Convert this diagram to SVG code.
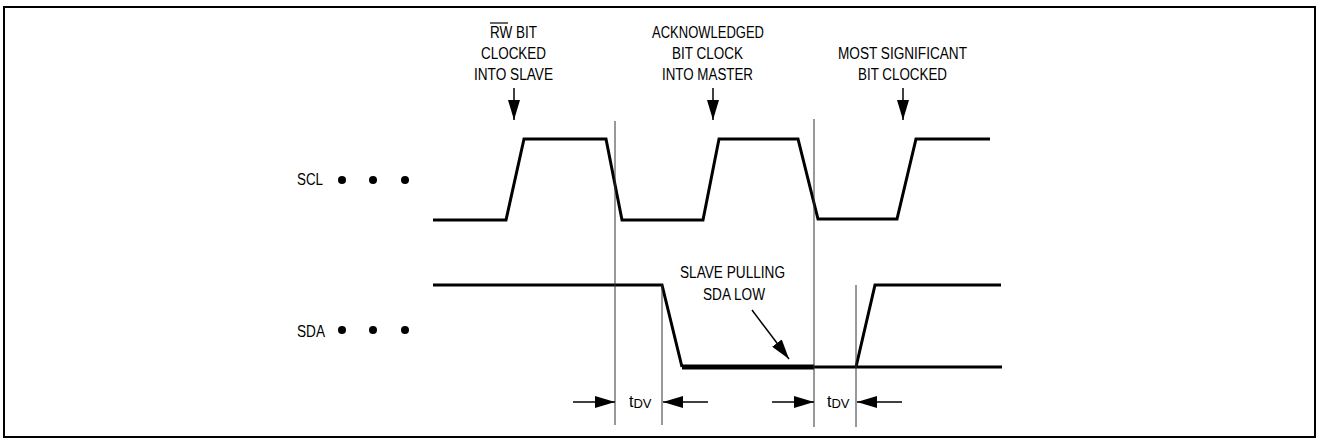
<svg xmlns="http://www.w3.org/2000/svg" width="1318" height="440" viewBox="0 0 1318 440">
<defs>
<marker id="ah" viewBox="0 0 20 12" refX="20" refY="6" markerWidth="20" markerHeight="12" markerUnits="userSpaceOnUse" orient="auto">
<path d="M0,0 L20,6 L0,12 Z" fill="#000"/>
</marker>
</defs>
<style>
text{font-family:"Liberation Sans",Arial,sans-serif;font-size:16px;fill:#000}
.sub{font-size:13px}
.wave{fill:none;stroke:#000;stroke-width:3;stroke-linejoin:miter}
.thick{fill:none;stroke:#000;stroke-width:5}
.guide{fill:none;stroke:#333;stroke-width:1}
.arr{fill:none;stroke:#000;stroke-width:1.5;marker-end:url(#ah)}
.dot{fill:#000}
</style>
<rect id="frame" x="4" y="7" width="1311" height="430" fill="#fff" stroke="#000" stroke-width="2"/>

<g id="scl-label">
<text x="297" y="185" textLength="26" lengthAdjust="spacingAndGlyphs">SCL</text>
<circle class="dot" cx="342" cy="180" r="4"/>
<circle class="dot" cx="373" cy="180" r="4"/>
<circle class="dot" cx="405" cy="180" r="4"/>
</g>
<g id="sda-label">
<text x="297" y="337" textLength="28" lengthAdjust="spacingAndGlyphs">SDA</text>
<circle class="dot" cx="342" cy="330" r="4"/>
<circle class="dot" cx="373" cy="330" r="4"/>
<circle class="dot" cx="405" cy="330" r="4"/>
</g>

<g id="scl-wave">
<polyline class="wave" points="433,220 506,220 524,139 606,139 622,220 703,220 719,139 798,139 818,219 897,219 916,139 990,139"/>
</g>
<g id="sda-wave">
<polyline class="wave" points="433,285 662,285 682,367"/>
<line class="thick" x1="682" y1="367" x2="814" y2="367"/>
<line class="wave" x1="814" y1="367" x2="1002" y2="367"/>
<polyline class="wave" points="856,367 875,285 1001,285"/>
</g>

<g id="guides">
<line class="guide" x1="615" y1="121" x2="615" y2="425"/>
<line class="guide" x1="814" y1="119" x2="814" y2="427"/>
<line class="guide" x1="662" y1="285" x2="662" y2="425"/>
<line class="guide" x1="856" y1="285" x2="856" y2="427"/>
</g>

<g id="label-rw">
<text x="490" y="38" textLength="47" lengthAdjust="spacingAndGlyphs">RW BIT</text>
<line x1="490" y1="23" x2="508" y2="23" stroke="#000" stroke-width="1.2"/>
<text x="481" y="59" textLength="65" lengthAdjust="spacingAndGlyphs">CLOCKED</text>
<text x="474" y="80" textLength="79" lengthAdjust="spacingAndGlyphs">INTO SLAVE</text>
</g>
<g id="label-ack">
<text x="652" y="38" textLength="112" lengthAdjust="spacingAndGlyphs">ACKNOWLEDGED</text>
<text x="672" y="59" textLength="71" lengthAdjust="spacingAndGlyphs">BIT CLOCK</text>
<text x="662" y="80" textLength="91" lengthAdjust="spacingAndGlyphs">INTO MASTER</text>
</g>
<g id="label-msb">
<text x="838" y="59" textLength="129" lengthAdjust="spacingAndGlyphs">MOST SIGNIFICANT</text>
<text x="858" y="80" textLength="89" lengthAdjust="spacingAndGlyphs">BIT CLOCKED</text>
</g>
<g id="label-slave">
<text x="680" y="278" textLength="105" lengthAdjust="spacingAndGlyphs">SLAVE PULLING</text>
<text x="703" y="300" textLength="62" lengthAdjust="spacingAndGlyphs">SDA LOW</text>
</g>
<g id="label-tdv1">
<text x="629" y="407">t<tspan class="sub" dy="1">DV</tspan></text>
</g>
<g id="label-tdv2">
<text x="827" y="407">t<tspan class="sub" dy="1">DV</tspan></text>
</g>

<g id="connectors">
<line class="arr" x1="514" y1="88" x2="514" y2="120"/>
<line class="arr" x1="713" y1="88" x2="713" y2="120"/>
<line class="arr" x1="903" y1="88" x2="903" y2="120"/>
<line class="arr" x1="752" y1="310" x2="789" y2="359"/>
<line class="arr" x1="573" y1="402" x2="615" y2="402"/>
<line class="arr" x1="708" y1="402" x2="663" y2="402"/>
<line class="arr" x1="772" y1="402" x2="814" y2="402"/>
<line class="arr" x1="902" y1="402" x2="857" y2="402"/>
</g>
</svg>
